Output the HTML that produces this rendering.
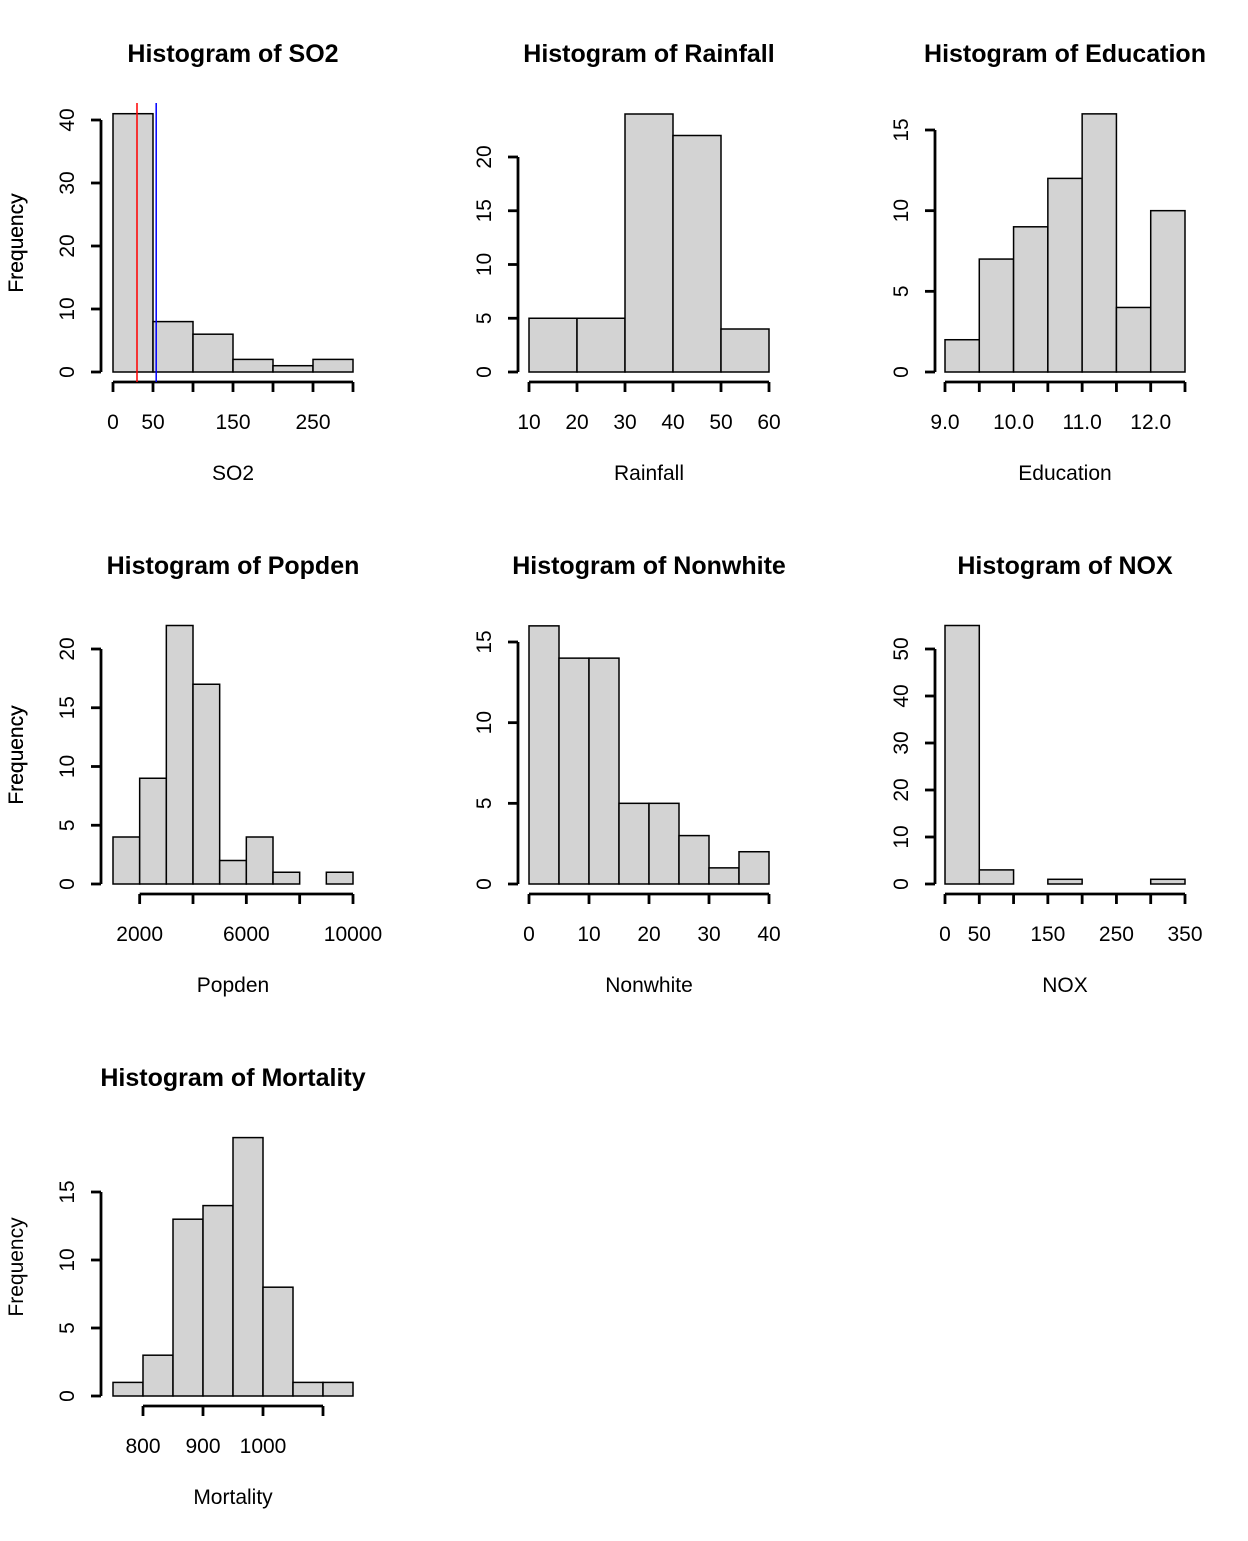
<!DOCTYPE html>
<html><head><meta charset="utf-8"><style>
body{margin:0;background:#fff}
svg text{font-family:"Liberation Sans",Arial,sans-serif;fill:#000}
</style></head><body>
<svg id="c" width="1248" height="1536" xmlns="http://www.w3.org/2000/svg"></svg>
<script>
const titles=["Histogram of SO2","Histogram of Rainfall","Histogram of Education","Histogram of Popden","Histogram of Nonwhite","Histogram of NOX","Histogram of Mortality"];
const xlabels=["SO2","Rainfall","Education","Popden","Nonwhite","NOX","Mortality"];
const breaksSO2=[0,50,100,150,200,250,300];
const countsSO2=[41,8,6,2,1,2];
const breaksRain=[10,20,30,40,50,60];
const countsRain=[5,5,24,22,4];
const breaksEdu=[9,9.5,10,10.5,11,11.5,12,12.5];
const countsEdu=[2,7,9,12,16,4,10];
const breaksPop=[1000,2000,3000,4000,5000,6000,7000,8000,9000,10000];
const countsPop=[4,9,22,17,2,4,1,0,1];
const breaksNon=[0,5,10,15,20,25,30,35,40];
const countsNon=[16,14,14,5,5,3,1,2];
const breaksNox=[0,50,100,150,200,250,300,350];
const countsNox=[55,3,0,1,0,0,1];
const breaksMort=[750,800,850,900,950,1000,1050,1100,1150];
const countsMort=[1,3,13,14,19,8,1,1];
const xTicks=[[0,50,100,150,200,250,300],[10,20,30,40,50,60],[9,9.5,10,10.5,11,11.5,12,12.5],[2000,4000,6000,8000,10000],[0,10,20,30,40],[0,50,100,150,200,250,300,350],[800,900,1000,1100]];
const xTickLabels=[{0:"0",50:"50",150:"150",250:"250"},{10:"10",20:"20",30:"30",40:"40",50:"50",60:"60"},{9:"9.0",10:"10.0",11:"11.0",12:"12.0"},{2000:"2000",6000:"6000",10000:"10000"},{0:"0",10:"10",20:"20",30:"30",40:"40"},{0:"0",50:"50",150:"150",250:"250",350:"350"},{800:"800",900:"900",1000:"1000"}];
const yTicks=[[0,10,20,30,40],[0,5,10,15,20],[0,5,10,15],[0,5,10,15,20],[0,5,10,15],[0,10,20,30,40,50],[0,5,10,15]];
const so2Lines=[30,54];
const allBreaks=[breaksSO2,breaksRain,breaksEdu,breaksPop,breaksNon,breaksNox,breaksMort];
const allCounts=[countsSO2,countsRain,countsEdu,countsPop,countsNon,countsNox,countsMort];
const L=[[113,353,0,300,372,120,40,101,233],[529,769,10,60,372,157,20,518,649],[945,1185,9,12.5,372,130,15,935,1065],
[113,353,1000,10000,884,649,20,101,233],[529,769,0,40,884,642,15,518,649],[945,1185,0,350,884,649,50,935,1065],
[113,353,750,1150,1396,1192,15,101,233]];
const svg=document.getElementById('c');const NS="http://www.w3.org/2000/svg";
function mk(t,a,p){const e=document.createElementNS(NS,t);for(const k in a)e.setAttribute(k,a[k]);(p||svg).appendChild(e);return e;}
L.forEach((l,i)=>{
 const [x0,x1,xmin,xmax,by,yt,yv,ax,cx]=l;
 const sx=v=>x0+(v-xmin)/(xmax-xmin)*(x1-x0);
 const sy=v=>by-(v/yv)*(by-yt);
 const g=mk('g',{});
 
 
 const t=mk('text',{x:cx,y:62,'font-size':25,'font-weight':'bold','text-anchor':'middle'},g);
 t.setAttribute('transform','translate(0,'+(by-372)+')');
 t.textContent=titles[i];
 
 
 const xl=mk('text',{x:cx,y:by+108,'font-size':21,'text-anchor':'middle'},g);xl.textContent=xlabels[i];
 
 
 const yl=mk('text',{x:0,y:0,'font-size':21,'text-anchor':'middle',transform:'translate(23,'+(by-129)+') rotate(-90)'},g);yl.textContent="Frequency";
 
 
 const br=allBreaks[i],ct=allCounts[i];
 ct.forEach((c,j)=>{const r=mk('rect',{x:sx(br[j]),y:sy(c),width:sx(br[j+1])-sx(br[j]),height:by-sy(c),fill:'#d3d3d3',stroke:'#000','stroke-width':1.5},g);
  
  });
 const yt2=yTicks[i];
 mk('line',{x1:ax,x2:ax,y1:sy(yt2[0]),y2:sy(yt2[yt2.length-1]),stroke:'#000','stroke-width':2.8},g);
 yt2.forEach(v=>{mk('line',{x1:ax,x2:ax-10,y1:sy(v),y2:sy(v),stroke:'#000','stroke-width':2.8},g);
  const tx=mk('text',{x:0,y:0,'font-size':21,'text-anchor':'middle',transform:'translate('+(ax-27)+','+sy(v)+') rotate(-90)'},g);tx.textContent=v;
  
  });
 const xt=xTicks[i],ay=by+10;
 mk('line',{x1:sx(xt[0]),x2:sx(xt[xt.length-1]),y1:ay,y2:ay,stroke:'#000','stroke-width':2.8},g);
 xt.forEach(v=>{mk('line',{x1:sx(v),x2:sx(v),y1:ay,y2:ay+10,stroke:'#000','stroke-width':2.8},g);
  const lab=xTickLabels[i][v];if(lab!==undefined){const tx=mk('text',{x:sx(v),y:ay+47,'font-size':21,'text-anchor':'middle'},g);tx.textContent=lab;
  
  }});
 if(i===0){const cols=['#ff0000','#0000ff'];so2Lines.forEach((v,k)=>{const ln=mk('line',{x1:sx(v),x2:sx(v),y1:103,y2:382,stroke:cols[k],'stroke-width':1.5},g);
  
  });}
});
</script>
</body></html>
